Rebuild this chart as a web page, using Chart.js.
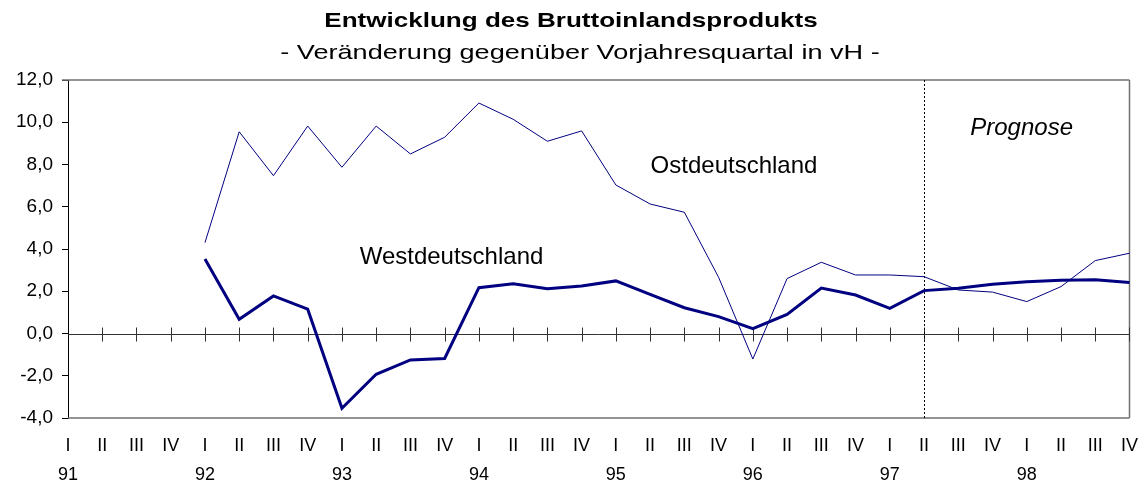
<!DOCTYPE html>
<html>
<head>
<meta charset="utf-8">
<script src="https://cdn.jsdelivr.net/npm/chart.js@4/dist/chart.umd.min.js"></script>
<style>
  html, body { margin: 0; padding: 0; background: #fff; }
  #wrap { width: 1144px; height: 485px; position: relative; }
</style>
</head>
<body>
<div id="wrap"><canvas id="c" width="1144" height="485"></canvas></div>
<script>
// ---- data ----
const quarterLabels = ["I","II","III","IV","I","II","III","IV","I","II","III","IV","I","II","III","IV",
                       "I","II","III","IV","I","II","III","IV","I","II","III","IV","I","II","III","IV"];
const yearLabels = ["91","","","","92","","","","93","","","","94","","","","95","","","",
                    "96","","","","97","","","","98","","",""];
const ostdeutschland = [null,null,null,null,
  4.3, 9.55, 7.47, 9.82,
  7.87, 9.82, 8.5, 9.29,
  10.91, 10.14, 9.1, 9.59,
  7.03, 6.13, 5.74, 2.66,
  -1.21, 2.6, 3.37, 2.77,
  2.77, 2.69, 2.06, 1.96,
  1.51, 2.22, 3.45, 3.8];
const westdeutschland = [null,null,null,null,
  3.53, 0.67, 1.78, 1.15,
  -3.54, -1.93, -1.25, -1.18,
  2.17, 2.36, 2.12, 2.25,
  2.49, 1.85, 1.22, 0.8,
  0.23, 0.9, 2.15, 1.82,
  1.19, 2.03, 2.14, 2.33,
  2.45, 2.52, 2.55, 2.41];
const yTicks = [-4, -2, 0, 2, 4, 6, 8, 10, 12];
const titleText = "Entwicklung des Bruttoinlandsprodukts";
const subtitleText = "- Veränderung gegenüber Vorjahresquartal in vH -";
const prognoseStartIndex = 25; // 97 II

const labels = quarterLabels.map((q, i) => [q, yearLabels[i]]);
const FONT = "'Liberation Sans', Arial, Helvetica, sans-serif";

function stretchedText(ctx, text, cx, y, sx) {
  ctx.save();
  ctx.translate(cx, y);
  ctx.scale(sx, 1);
  ctx.fillText(text, 0, 0);
  ctx.restore();
}

const decor = {
  id: 'decor',
  beforeDatasetsDraw(chart) {
    const ctx = chart.ctx, a = chart.chartArea;
    const xs = chart.scales.x, ys = chart.scales.y;
    ctx.save();
    // frame (top, right, bottom)
    ctx.strokeStyle = '#707070';
    ctx.lineWidth = 1.5;
    ctx.beginPath();
    ctx.moveTo(a.left - 6, a.top); ctx.lineTo(a.right, a.top);
    ctx.moveTo(a.right, a.top); ctx.lineTo(a.right, a.bottom);
    ctx.moveTo(a.left, a.bottom); ctx.lineTo(a.right, a.bottom);
    ctx.stroke();
    // zero line with quarter tick marks
    const y0 = Math.round(ys.getPixelForValue(0)) + 0.5;
    ctx.strokeStyle = '#333';
    ctx.lineWidth = 1;
    ctx.beginPath();
    ctx.moveTo(a.left, y0); ctx.lineTo(a.right, y0);
    for (let i = 1; i < quarterLabels.length; i++) {
      const x = Math.round(xs.getPixelForValue(i)) + 0.5;
      ctx.moveTo(x, y0 - 7); ctx.lineTo(x, y0 + 7);
    }
    ctx.stroke();
    // forecast divider
    const xd = Math.round(xs.getPixelForValue(prognoseStartIndex)) + 0.5;
    ctx.strokeStyle = '#000';
    ctx.setLineDash([2, 2]);
    ctx.beginPath();
    ctx.moveTo(xd, a.top); ctx.lineTo(xd, a.bottom);
    ctx.stroke();
    ctx.setLineDash([]);
    ctx.restore();
  },
  afterDraw(chart) {
    const ctx = chart.ctx;
    const xs = chart.scales.x, ys = chart.scales.y;
    ctx.save();
    ctx.fillStyle = '#000';
    ctx.textAlign = 'center';
    ctx.textBaseline = 'alphabetic';
    ctx.font = "bold 21px " + FONT;
    stretchedText(ctx, titleText, 571, 27, 1.24);
    ctx.font = "21px " + FONT;
    stretchedText(ctx, subtitleText, 580, 59, 1.29);
    ctx.textBaseline = 'middle';
    ctx.font = "24px " + FONT;
    ctx.fillText("Ostdeutschland", xs.getPixelForValue(19.45), ys.getPixelForValue(7.93));
    ctx.fillText("Westdeutschland", xs.getPixelForValue(11.2), ys.getPixelForValue(3.62));
    ctx.font = "italic 24px " + FONT;
    ctx.fillText("Prognose", xs.getPixelForValue(27.85), ys.getPixelForValue(9.73));
    ctx.restore();
  }
};

new Chart(document.getElementById('c'), {
  type: 'line',
  data: {
    labels: labels,
    datasets: [
      { label: 'Ostdeutschland', data: ostdeutschland, borderColor: '#000080', borderWidth: 1,
        pointRadius: 0, fill: false, tension: 0 },
      { label: 'Westdeutschland', data: westdeutschland, borderColor: '#000080', borderWidth: 3,
        pointRadius: 0, fill: false, tension: 0 }
    ]
  },
  options: {
    responsive: false,
    animation: false,
    layout: { padding: { left: 0, right: 14, top: 80, bottom: 0 } },
    plugins: { legend: { display: false }, title: { display: false }, tooltip: { enabled: false } },
    scales: {
      x: {
        type: 'category',
        offset: false,
        grid: { display: false },
        border: { display: false },
        ticks: { autoSkip: false, maxRotation: 0, minRotation: 0, padding: 6, color: '#000',
                 font: { family: FONT, size: 18, lineHeight: 1.6 } },
        afterFit(scale) { scale.height = 67; }
      },
      y: {
        min: -4, max: 12,
        afterBuildTicks(scale) { scale.ticks = yTicks.map(v => ({ value: v })); },
        grid: { drawOnChartArea: false, tickLength: 6, tickColor: '#000', lineWidth: 1 },
        border: { display: true, color: '#000', width: 1 },
        ticks: { color: '#000', padding: 9, font: { family: FONT, size: 19 },
                 callback: v => v.toFixed(1).replace('.', ',') },
        afterFit(scale) { scale.width = 68; }
      }
    }
  },
  plugins: [decor]
});
</script>
</body>
</html>
